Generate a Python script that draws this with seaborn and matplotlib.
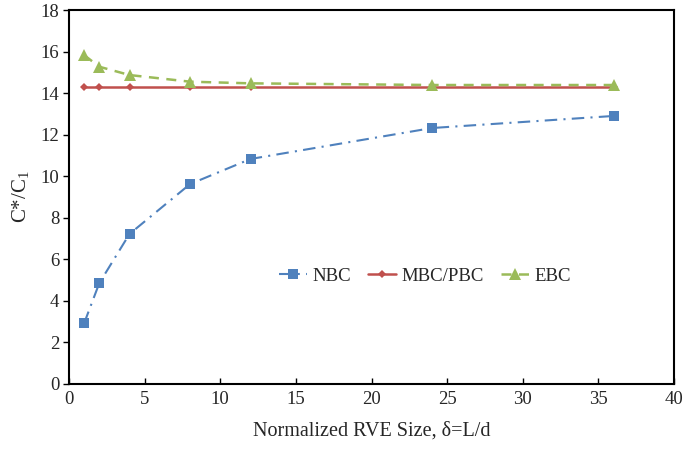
import matplotlib
matplotlib.use("Agg")
import matplotlib.pyplot as plt
import seaborn as sns
import pandas as pd

delta = [1, 2, 4, 8, 12, 24, 36]
nbc = [2.92, 4.85, 7.22, 9.62, 10.83, 12.32, 12.90]
mbc_pbc = [14.29, 14.29, 14.29, 14.29, 14.29, 14.29, 14.29]
ebc = [15.83, 15.27, 14.87, 14.55, 14.47, 14.39, 14.39]

x_ticks = [0, 5, 10, 15, 20, 25, 30, 35, 40]
y_ticks = [0, 2, 4, 6, 8, 10, 12, 14, 16, 18]

sns.set_theme(style="white")
plt.rcParams['font.family'] = ['Liberation Serif', 'DejaVu Serif']
plt.rcParams['mathtext.fontset'] = 'custom'
plt.rcParams['mathtext.rm'] = 'Liberation Serif'

fig = plt.figure(figsize=(6.84, 4.49), dpi=100)
ax = fig.add_axes([69 / 684, 1 - 384 / 449, (674 - 69) / 684, (384 - 10) / 449])

df_n = pd.DataFrame({"x": delta, "y": nbc})
df_m = pd.DataFrame({"x": delta, "y": mbc_pbc})
df_e = pd.DataFrame({"x": delta, "y": ebc})

sns.lineplot(data=df_n, x="x", y="y", ax=ax, color="#4F81BD", marker="s",
             markersize=7, markeredgewidth=0, linewidth=1.5, label="NBC")
ax.lines[-1].set_dashes([6, 3, 1, 3])
sns.lineplot(data=df_m, x="x", y="y", ax=ax, color="#C0504D", marker="D",
             markersize=4.5, markeredgewidth=0, linewidth=1.8, label="MBC/PBC")
sns.lineplot(data=df_e, x="x", y="y", ax=ax, color="#9BBB59", marker="^",
             markersize=8, markeredgewidth=0, linewidth=1.8, label="EBC")
ax.lines[-1].set_dashes([4, 3])

ax.set_xlim(0, 40)
ax.set_ylim(0, 18)
ax.set_xticks(x_ticks)
ax.set_yticks(y_ticks)
ax.tick_params(axis='x', direction='in', length=4, width=1, labelsize=13.5, pad=5,
               color='black', bottom=True)
ax.tick_params(axis='y', direction='out', length=4, width=1, labelsize=13.5, pad=3,
               color='black', left=True)
for s in ax.spines.values():
    s.set_color('black')
    s.set_linewidth(1.5)

ax.set_xlabel("Normalized RVE Size, δ=L/d", fontsize=14.5, labelpad=10)
ax.set_ylabel("C*/C$_\\mathregular{1}$", fontsize=15, labelpad=6)

leg = ax.legend(loc='center', bbox_to_anchor=((425 - 69) / 605, (384 - 276) / 374), ncol=3,
                frameon=False, fontsize=13.5, handlelength=1.5, columnspacing=0.9,
                handletextpad=0.3)

fig.savefig("out.png", dpi=100)
